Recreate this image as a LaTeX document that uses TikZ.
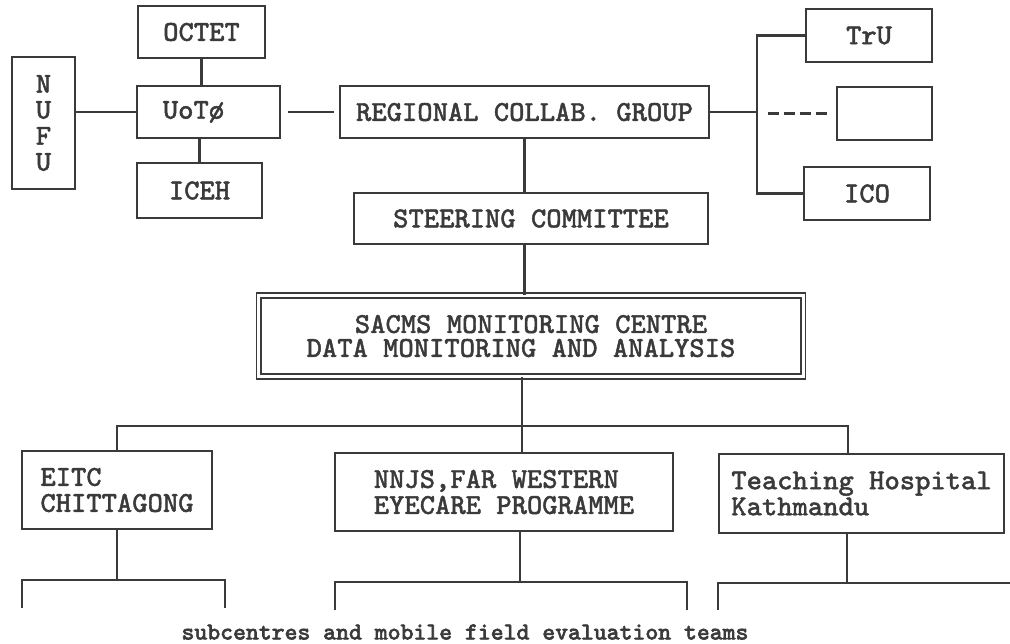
\documentclass[tikz,border=0pt]{standalone}
\usepackage{fontspec}
\newfontfamily\boxfont{Latin Modern Mono}[FakeBold=1.6]
\newfontfamily\notefont{Latin Modern Mono}[FakeBold=2.6]
\usepackage{tikz}
\definecolor{ink}{HTML}{3A3A3A}

\begin{document}
\begin{tikzpicture}[
    x=0.01cm, y=-0.01cm,
    box/.style={rectangle, draw=ink, line width=0.6pt, inner sep=0pt, align=center, text=ink, font=\boxfont\fontsize{8.2}{7.4}\selectfont},
    mainbox/.style={box, double, double distance=0.8pt, line width=0.5pt, font=\boxfont\fontsize{8.2}{6.8}\selectfont},
    link/.style={draw=ink, line width=0.6pt}
]
\useasboundingbox (0,0) rectangle (1010,643);

\node[box, minimum width=0.63cm, minimum height=1.32cm] (nufu) at (43.5,123) {N\\U\\F\\U};
\node[box, minimum width=1.27cm, minimum height=0.52cm] (octet) at (201.5,32) {OCTET};
\node[box, minimum width=1.43cm, minimum height=0.52cm] (uoto) at (208.5,112) {UoTø\hspace*{0.3cm}};
\node[box, minimum width=1.25cm, minimum height=0.55cm] (iceh) at (199.5,190.5) {ICEH};
\node[box, minimum width=3.69cm, minimum height=0.52cm] (rcg) at (524.5,112) {REGIONAL COLLAB. GROUP};
\node[box, minimum width=1.26cm, minimum height=0.53cm] (tru) at (869,35.5) {TrU};
\node[box, minimum width=0.95cm, minimum height=0.53cm] (blank) at (884.5,113.5) {};
\node[box, minimum width=1.26cm, minimum height=0.53cm] (ico) at (867,193.5) {ICO};
\node[box, minimum width=3.54cm, minimum height=0.51cm] (steer) at (531,218.5) {STEERING COMMITTEE};
\node[mainbox, minimum width=5.44cm, minimum height=0.81cm] (sacms) at (531,336) {SACMS MONITORING CENTRE\\DATA MONITORING AND ANALYSIS\hspace*{0.2cm}};
\node[box, minimum width=1.90cm, minimum height=0.78cm, align=left] (eitc) at (117,490) {EITC\\CHITTAGONG};
\node[box, minimum width=3.38cm, minimum height=0.78cm, align=left] (nnjs) at (504,492) {NNJS,FAR WESTERN\\EYECARE PROGRAMME};
\node[box, minimum width=2.85cm, minimum height=0.79cm, align=left] (teach) at (861.5,493.5) {Teaching Hospital\\Kathmandu};
\node[text=ink, font=\notefont\fontsize{6.9}{7}\selectfont] (caption) at (465,632) {subcentres and mobile field evaluation teams};

\coordinate (rbus) at (757,112);
\coordinate (hbus) at (522,426);
\coordinate (efork) at (117,580);
\coordinate (eleft) at (22,608);
\coordinate (eright) at (225,608);
\coordinate (nfork) at (520,582);
\coordinate (nleft) at (335,610);
\coordinate (nright) at (687,610);
\coordinate (tfork) at (847,583);
\coordinate (tleft) at (718,610);
\coordinate (tright) at (1010,583);

\draw[link] (octet) -- (octet |- uoto.north);
\draw[link] (iceh) -- (iceh |- uoto.south);
\draw[link] (uoto.west) -- (uoto.west -| nufu.east);
\draw[link, shorten <=0.07cm, shorten >=0.05cm] (uoto.east) -- (rcg.west);
\draw[link] (rcg.east) -- (rbus);
\draw[link] (tru.west) -| (rbus) |- (ico.west);
\draw[link, dash pattern=on 0.11cm off 0.05cm, shorten <=0.09cm, shorten >=0.1cm] (blank.west) -- (blank.west -| rbus);
\draw[link] (rcg.south) -- (rcg.south |- steer.north);
\draw[link] (steer.south -| rcg.south) -- (sacms.north -| rcg.south);
\draw[link] (sacms.south -| hbus) -- (nnjs.north -| hbus);
\draw[link] (eitc.north) |- (hbus) -| ([xshift=-0.135cm]teach.north);

\draw[link] (eitc) -- (efork);
\draw[link] (eleft) |- (efork) -| (eright);
\draw[link] (nnjs.south -| nfork) -- (nfork);
\draw[link] (nleft) |- (nfork) -| (nright);
\draw[link] (teach.south -| tfork) -- (tfork);
\draw[link] (tleft) |- (tfork) -- (tright);
\end{tikzpicture}
\end{document}
